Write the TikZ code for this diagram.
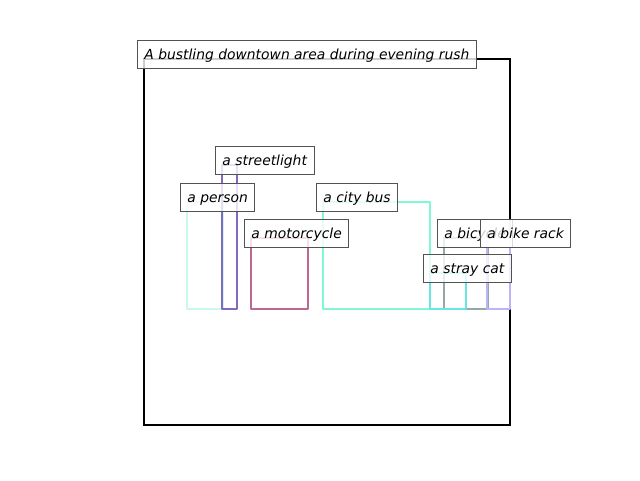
\documentclass[tikz,border=0pt]{standalone}
\usepackage{fontspec}
\setmainfont{DejaVu Sans}
\begin{document}
\begin{tikzpicture}[x=0.75pt,y=-0.75pt,
  lbl/.style={anchor=base west, draw=black!68, line width=0.7pt, fill=white, fill opacity=0.8, text opacity=1,
    inner xsep=5.25pt, inner ysep=0pt, text height=14.25pt, text depth=6.75pt, font=\itshape\fontsize{10.4}{12}\selectfont, xshift=-5.25pt},
  obj/.style={line width=2.2pt, line join=round}]
\useasboundingbox (0,0) rectangle (640,480);
\definecolor{cperson}{HTML}{C8F8EE}
\definecolor{cstreet}{HTML}{8468C0}
\definecolor{cmoto}{HTML}{BC6890}
\definecolor{cbus}{HTML}{80F8D6}
\definecolor{ccat}{HTML}{68E6E2}
\definecolor{cbicycle}{HTML}{94A8A8}
\definecolor{crack}{HTML}{C0B2F8}
\draw[line width=1.6pt] (144,59) rectangle (510,425);
\draw[obj, cperson] (187,202) rectangle (223,309);
\draw[obj, cstreet] (222,165) rectangle (237,309);
\draw[obj, cmoto] (251,238) rectangle (308,309);
\draw[obj, cbus] (323,202) rectangle (430,309);
\draw[obj, cbicycle] (444,238) rectangle (488,309);
\draw[obj, crack] (487,238) rectangle (510,309);
\draw[obj, ccat] (430,273) rectangle (466,309);
\node[lbl] (cap) at (144,59) {A bustling downtown area during evening rush};
\node[lbl] (street) at (222,165) {a streetlight};
\node[lbl] (person) at (187,202) {a person};
\node[lbl] (bus) at (323,202) {a city bus};
\node[lbl] (moto) at (251,238) {a motorcycle};
\node[lbl] (bicycle) at (444,238) {a bicycle};
\node[lbl] (rack) at (487,238) {a bike rack};
\node[lbl] (cat) at (430,273) {a stray cat};
\end{tikzpicture}
\end{document}
